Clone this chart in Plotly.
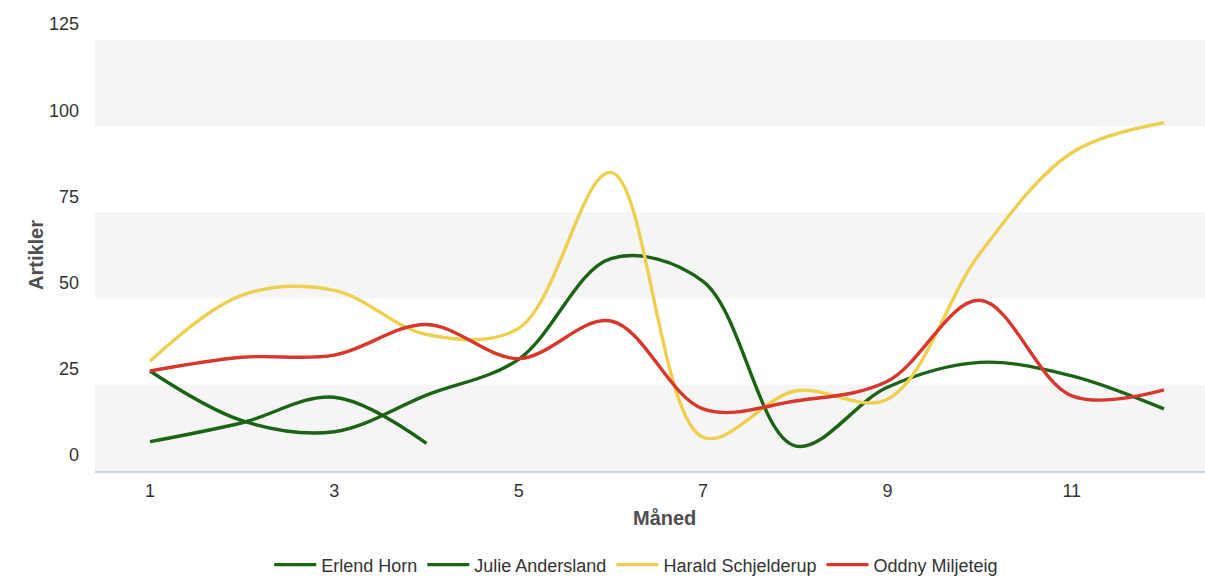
import plotly.graph_objects as go

months = list(range(1, 13))
erlend_horn = [29, 14.6, 11.4, 22, 32.4, 61.6, 55, 7.3, 24.3, 31.5, 27.6, 18]
julie_andersland = [8.5, 14, 21.4, 8, None, None, None, None, None, None, None, None]
harald_schjelderup = [31.8, 51, 52.4, 39.6, 41.4, 86.6, 9.8, 23.2, 20.8, 63, 92.3, 101]
oddny_miljeteig = [29, 33, 33.6, 42.5, 32.6, 43.5, 18, 20.3, 26, 49.5, 21.8, 23.5]

series_names = ["Erlend Horn", "Julie Andersland", "Harald Schjelderup", "Oddny Miljeteig"]
series_values = [erlend_horn, julie_andersland, harald_schjelderup, oddny_miljeteig]
series_colors = ["#1a6414", "#1a6414", "#efcf4f", "#d8372b"]

x_ticks = [1, 3, 5, 7, 9, 11]
y_ticks = [0, 25, 50, 75, 100, 125]
band_edges = [(0, 25), (50, 75), (100, 125)]

fig = go.Figure()
for name, vals, col in zip(series_names, series_values, series_colors):
    fig.add_trace(go.Scatter(
        x=months, y=vals, name=name, mode="lines",
        line=dict(color=col, width=3.4, shape="spline", smoothing=1.0),
        connectgaps=False,
    ))

for lo, hi in band_edges:
    fig.add_shape(type="rect", xref="paper", yref="y", x0=0, x1=1, y0=lo, y1=hi,
                  fillcolor="#f5f5f5", line=dict(width=0), layer="below")

font_family = "Liberation Sans, Arial, sans-serif"
fig.update_layout(
    width=1205, height=580,
    margin=dict(l=95, r=0, t=40, b=109, pad=0),
    paper_bgcolor="white", plot_bgcolor="white",
    font=dict(family=font_family, size=18, color="#333333"),
    showlegend=True,
    legend=dict(orientation="h", xref="container", yref="container",
                x=0.528, y=0.026, xanchor="center", yanchor="middle",
                font=dict(size=18, color="#333333"), itemwidth=42,
                tracegroupgap=0),
    xaxis=dict(range=[0.404, 12.445], tickvals=x_ticks, showgrid=False,
               zeroline=False, showline=True, linecolor="#c8d4e2", linewidth=1.5,
               ticks="", ticklabelstandoff=3,
               tickfont=dict(size=18, color="#333333")),
    yaxis=dict(range=[0, 125], tickvals=y_ticks, showgrid=False, zeroline=False,
               showline=False, ticks="", ticklabelshift=-16, ticklabelstandoff=15,
               tickfont=dict(size=18, color="#333333")),
    annotations=[
        dict(text="<b>Artikler</b>", xref="paper", yref="paper", x=0, xshift=-72.5,
             y=0.5, yshift=0, textangle=-90, showarrow=False,
             font=dict(size=20, color="#4f4f4f")),
        dict(text="<b>Måned</b>", xref="paper", yref="paper", x=0.5135,
             y=0, yshift=-47, showarrow=False, yanchor="middle",
             font=dict(size=20, color="#4f4f4f")),
    ],
)

fig.write_html("out.html", config={"displayModeBar": False},
               post_script="document.body.style.margin='0px';")
